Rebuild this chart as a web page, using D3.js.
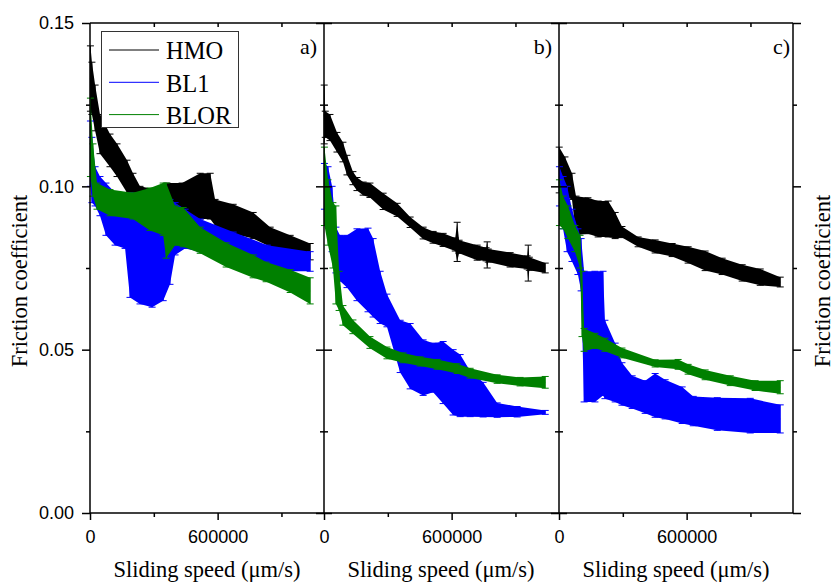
<!DOCTYPE html>
<html>
<head>
<meta charset="utf-8">
<script src="https://cdn.jsdelivr.net/npm/d3@7"></script>
<style>
  body { margin: 0; background: #ffffff; }
  svg { display: block; }
</style>
</head>
<body>
<div id="chart"></div>
<script>
// speed (um/s), friction coefficient, error
const aHMO = [
  [2000, 0.133, 0.010], [9000, 0.130, 0.008], [24000, 0.124, 0.007], [47000, 0.116, 0.006],
  [94000, 0.111, 0.005], [127000, 0.108, 0.005], [174000, 0.103, 0.005], [202000, 0.099, 0.005],
  [235000, 0.096, 0.004], [306000, 0.096, 0.003], [362000, 0.095, 0.006], [433000, 0.096, 0.005],
  [518000, 0.097, 0.007], [565000, 0.097, 0.007], [588000, 0.092, 0.004], [673000, 0.090, 0.0045],
  [767000, 0.088, 0.004], [847000, 0.0845, 0.003], [941000, 0.082, 0.003], [1035000, 0.080, 0.0025]
];
const aBL1 = [
  [2000, 0.110, 0.010], [9000, 0.105, 0.010], [24000, 0.100, 0.006], [47000, 0.097, 0.006],
  [75000, 0.093, 0.008], [118000, 0.090, 0.008], [165000, 0.089, 0.008], [188000, 0.082, 0.016],
  [235000, 0.081, 0.017], [292000, 0.080, 0.017], [344000, 0.081, 0.016], [376000, 0.083, 0.013],
  [400000, 0.087, 0.008], [447000, 0.087, 0.006], [518000, 0.085, 0.005], [673000, 0.081, 0.005],
  [833000, 0.078, 0.004], [1035000, 0.077, 0.003]
];
const aBLOR = [
  [2000, 0.115, 0.012], [14000, 0.105, 0.008], [33000, 0.097, 0.004], [94000, 0.095, 0.004],
  [202000, 0.094, 0.004], [282000, 0.093, 0.0065], [344000, 0.093, 0.008], [358000, 0.0895, 0.0115],
  [400000, 0.088, 0.006], [438000, 0.0875, 0.006], [518000, 0.0835, 0.004], [640000, 0.079, 0.0037],
  [767000, 0.0755, 0.0035], [828000, 0.0738, 0.003], [941000, 0.071, 0.0035], [1035000, 0.068, 0.004]
];

const bHMO = [
  [1000, 0.122, 0.009], [6000, 0.119, 0.004], [28000, 0.118, 0.004], [61000, 0.1135, 0.003],
  [89000, 0.1105, 0.003], [108000, 0.1065, 0.003], [136000, 0.1025, 0.002], [155000, 0.1007, 0.002],
  [184000, 0.0993, 0.002], [216000, 0.0988, 0.0022], [278000, 0.0954, 0.0025], [344000, 0.0928, 0.002],
  [405000, 0.089, 0.0016], [466000, 0.0857, 0.0018], [513000, 0.0844, 0.0018], [560000, 0.0836, 0.002],
  [617000, 0.0822, 0.002], [626000, 0.083, 0.006], [635000, 0.0815, 0.002], [720000, 0.0797, 0.0023],
  [762000, 0.0792, 0.002], [767000, 0.079, 0.004], [772000, 0.0788, 0.002], [875000, 0.0775, 0.0022],
  [955000, 0.0767, 0.002], [960000, 0.0765, 0.0055], [965000, 0.0763, 0.002], [1040000, 0.075, 0.0015]
];
const bBL1 = [
  [2000, 0.100, 0.007], [19000, 0.097, 0.009], [38000, 0.090, 0.010], [56000, 0.0805, 0.007],
  [75000, 0.078, 0.007], [108000, 0.077, 0.008], [155000, 0.076, 0.011], [207000, 0.0744, 0.0128],
  [231000, 0.072, 0.012], [264000, 0.066, 0.008], [296000, 0.062, 0.005], [358000, 0.051, 0.008],
  [405000, 0.048, 0.010], [466000, 0.0445, 0.0085], [513000, 0.0445, 0.0075], [560000, 0.043, 0.0095],
  [607000, 0.040, 0.010], [640000, 0.039, 0.0095], [687000, 0.0365, 0.007], [748000, 0.0347, 0.0053],
  [814000, 0.0315, 0.0022], [908000, 0.031, 0.0016], [1040000, 0.0308, 0.0006]
];
const bBLOR = [
  [2000, 0.100, 0.012], [19000, 0.092, 0.010], [42000, 0.085, 0.010], [56000, 0.079, 0.015],
  [71000, 0.068, 0.006], [89000, 0.0605, 0.003], [136000, 0.057, 0.0021], [216000, 0.0522, 0.0018],
  [296000, 0.049, 0.0018], [372000, 0.0475, 0.0015], [452000, 0.0464, 0.0014], [532000, 0.0455, 0.0015],
  [626000, 0.0442, 0.0015], [687000, 0.0428, 0.0015], [814000, 0.041, 0.0013], [922000, 0.0402, 0.0013],
  [1040000, 0.040, 0.0018]
];

const cHMO = [
  [1000, 0.105, 0.007], [28000, 0.103, 0.006], [61000, 0.100, 0.004], [80000, 0.091, 0.006],
  [136000, 0.091, 0.0055], [184000, 0.090, 0.0055], [231000, 0.090, 0.0055], [264000, 0.088, 0.004],
  [296000, 0.086, 0.0017], [372000, 0.083, 0.0015], [452000, 0.0816, 0.002], [532000, 0.0805, 0.002],
  [607000, 0.079, 0.0025], [687000, 0.0772, 0.003], [767000, 0.0755, 0.0025], [861000, 0.0735, 0.0025],
  [946000, 0.0722, 0.0025], [1040000, 0.0707, 0.0015]
];
const cBL1 = [
  [2000, 0.100, 0.006], [19000, 0.095, 0.008], [38000, 0.090, 0.010], [61000, 0.085, 0.008],
  [89000, 0.080, 0.007], [104000, 0.076, 0.008], [118000, 0.054, 0.020], [169000, 0.054, 0.020],
  [207000, 0.055, 0.019], [216000, 0.047, 0.012], [264000, 0.043, 0.009], [296000, 0.0395, 0.0065],
  [344000, 0.037, 0.005], [405000, 0.0355, 0.005], [452000, 0.036, 0.0067], [499000, 0.0348, 0.006],
  [579000, 0.033, 0.0056], [631000, 0.0312, 0.0045], [744000, 0.0303, 0.005], [899000, 0.0298, 0.0053],
  [1040000, 0.0288, 0.0043]
];
const cBLOR = [
  [2000, 0.095, 0.007], [19000, 0.092, 0.005], [42000, 0.089, 0.005], [75000, 0.084, 0.004],
  [99000, 0.080, 0.005], [108000, 0.064, 0.010], [118000, 0.053, 0.0035], [169000, 0.0527, 0.0023],
  [216000, 0.0515, 0.002], [296000, 0.049, 0.0015], [452000, 0.0458, 0.0011], [560000, 0.0455, 0.0015],
  [607000, 0.044, 0.0015], [687000, 0.0423, 0.0015], [805000, 0.0405, 0.0015], [922000, 0.039, 0.0015],
  [1040000, 0.0385, 0.002]
];

const seriesNames = ['HMO', 'BL1', 'BLOR'];
const seriesColors = ['#000000', '#0000ff', '#008000'];
const panelLabels = ['a)', 'b)', 'c)'];
const xTicksMajor = [0, 600000];
const xTicksMinor = [300000, 900000];
const yTicksMajor = [0, 0.05, 0.10, 0.15];
const yTicksMinor = [0.025, 0.075, 0.125];
const xTitle = 'Sliding speed (\u03bcm/s)';
const yTitle = 'Friction coefficient';

const panelData = [
  [aHMO, aBL1, aBLOR],
  [bHMO, bBL1, bBLOR],
  [cHMO, cBL1, cBLOR]
];

const W = 836, H = 584;
const plotTop = 23, plotBottom = 513;
const panelLefts = [90, 324, 559];
const panelW = 234;
const labelRight = [317, 552, 790];
const SERIF = "'Liberation Serif', 'Times New Roman', serif";
const SANS = "'Liberation Sans', Arial, sans-serif";

const svg = d3.select('#chart')
  .append('svg')
    .attr('width', W)
    .attr('height', H)
    .style('background-color', '#ffffff');

const y = d3.scaleLinear().domain([0, 0.15]).range([plotBottom, plotTop]);

function styleAxis(g) {
  g.select('.domain').remove();
  g.selectAll('line').attr('stroke', '#000').attr('stroke-width', 1.5);
  g.selectAll('text').style('font-family', SANS).style('font-size', '18px').attr('fill', '#000');
}

function drawSeries(g, data, x, color) {
  const area = d3.area()
    .x(d => x(d[0]))
    .y0(d => y(d[1] - d[2]))
    .y1(d => y(d[1] + d[2]));
  g.append('path').datum(data).attr('d', area).attr('fill', color);

  const bars = g.append('g').attr('stroke', color).attr('stroke-width', 1);
  bars.selectAll('.v').data(data).enter().append('line')
    .attr('x1', d => x(d[0])).attr('x2', d => x(d[0]))
    .attr('y1', d => y(d[1] - d[2])).attr('y2', d => y(d[1] + d[2]));
  // caps
  [-1, 1].forEach(s => {
    bars.selectAll('.c' + s).data(data).enter().append('line')
      .attr('x1', d => x(d[0]) - 3.5).attr('x2', d => x(d[0]) + 3.5)
      .attr('y1', d => y(d[1] + s * d[2])).attr('y2', d => y(d[1] + s * d[2]));
  });

  const line = d3.line().x(d => x(d[0])).y(d => y(d[1]));
  g.append('path').datum(data).attr('d', line)
    .attr('fill', 'none').attr('stroke', color).attr('stroke-width', 1);
}

panelLefts.forEach((left, i) => {
  const x = d3.scaleLinear().domain([0, 1100000]).range([left, left + panelW]);
  const g = svg.append('g');

  panelData[i].forEach((data, k) => drawSeries(g, data, x, seriesColors[k]));

  // bottom axis
  g.append('g').attr('transform', `translate(0,${plotBottom})`)
    .call(d3.axisBottom(x).tickValues(xTicksMajor).tickSize(7).tickPadding(10)
      .tickFormat(d3.format('d')))
    .call(styleAxis);
  g.append('g').attr('transform', `translate(0,${plotBottom})`)
    .call(d3.axisBottom(x).tickValues(xTicksMinor).tickSize(4).tickFormat(''))
    .call(styleAxis);
  // top axis, ticks inward
  g.append('g').attr('transform', `translate(0,${plotTop})`)
    .call(d3.axisBottom(x).tickValues(xTicksMajor.concat(xTicksMinor).filter(v => v > 0))
      .tickSize(4).tickFormat(''))
    .call(styleAxis);

  // left axis of the panel
  if (i === 0) {
    g.append('g').attr('transform', `translate(${left},0)`)
      .call(d3.axisLeft(y).tickValues(yTicksMajor).tickSize(8).tickPadding(8)
        .tickFormat(d3.format('.2f')))
      .call(styleAxis);
    g.append('g').attr('transform', `translate(${left},0)`)
      .call(d3.axisLeft(y).tickValues(yTicksMinor).tickSize(4).tickFormat(''))
      .call(styleAxis);
  } else {
    [d3.axisLeft, d3.axisRight].forEach(ax => {
      g.append('g').attr('transform', `translate(${left},0)`)
        .call(ax(y).tickValues(yTicksMajor).tickSize(8).tickFormat(''))
        .call(styleAxis);
      g.append('g').attr('transform', `translate(${left},0)`)
        .call(ax(y).tickValues(yTicksMinor).tickSize(4).tickFormat(''))
        .call(styleAxis);
    });
  }

  // frame line
  g.append('line')
    .attr('x1', left).attr('x2', left).attr('y1', plotTop).attr('y2', plotBottom)
    .attr('stroke', '#000').attr('stroke-width', 1.5);

  // x title
  g.append('text')
    .attr('x', left + panelW / 2)
    .attr('y', 577)
    .attr('text-anchor', 'middle')
    .style('font-family', SERIF)
    .style('font-size', '22.5px')
    .text(xTitle);

  // panel label
  g.append('text')
    .attr('x', labelRight[i])
    .attr('y', 54)
    .attr('text-anchor', 'end')
    .style('font-family', SERIF)
    .style('font-size', '22px')
    .text(panelLabels[i]);
});

// outer right axis, ticks outward
const rightX = panelLefts[2] + panelW;
svg.append('g').attr('transform', `translate(${rightX},0)`)
  .call(d3.axisRight(y).tickValues(yTicksMajor).tickSize(8).tickFormat(''))
  .call(styleAxis);
svg.append('g').attr('transform', `translate(${rightX},0)`)
  .call(d3.axisRight(y).tickValues(yTicksMinor).tickSize(4).tickFormat(''))
  .call(styleAxis);

svg.append('line')
  .attr('x1', rightX).attr('x2', rightX).attr('y1', plotTop).attr('y2', plotBottom)
  .attr('stroke', '#000').attr('stroke-width', 1.5);
svg.append('line')
  .attr('x1', panelLefts[0]).attr('x2', rightX).attr('y1', plotTop).attr('y2', plotTop)
  .attr('stroke', '#000').attr('stroke-width', 1.5);
svg.append('line')
  .attr('x1', panelLefts[0]).attr('x2', rightX).attr('y1', plotBottom).attr('y2', plotBottom)
  .attr('stroke', '#000').attr('stroke-width', 1.5);

// y titles, left and right
[27, 830].forEach(bx => {
  svg.append('text')
    .attr('transform', `translate(${bx},281) rotate(-90)`)
    .attr('text-anchor', 'middle')
    .style('font-family', SERIF)
    .style('font-size', '22.5px')
    .text(yTitle);
});

// legend
const legend = svg.append('g').attr('class', 'legend');
legend.append('rect')
  .attr('x', 101.5).attr('y', 31.5).attr('width', 137).attr('height', 96)
  .attr('fill', '#ffffff').attr('stroke', '#333').attr('stroke-width', 1);
const legendItems = legend.selectAll('.legend-item')
  .data(seriesNames)
  .enter()
  .append('g')
  .attr('class', 'legend-item')
  .attr('transform', (d, i) => `translate(0, ${i * 32.3})`);
legendItems.append('line')
  .attr('x1', 109).attr('x2', 159).attr('y1', 50).attr('y2', 50)
  .attr('stroke', (d, i) => seriesColors[i]).attr('stroke-width', 1);
legendItems.append('text')
  .attr('x', 166)
  .attr('y', 59.3)
  .style('font-family', SERIF)
  .style('font-size', '24.5px')
  .text(d => d);
</script>
</body>
</html>
